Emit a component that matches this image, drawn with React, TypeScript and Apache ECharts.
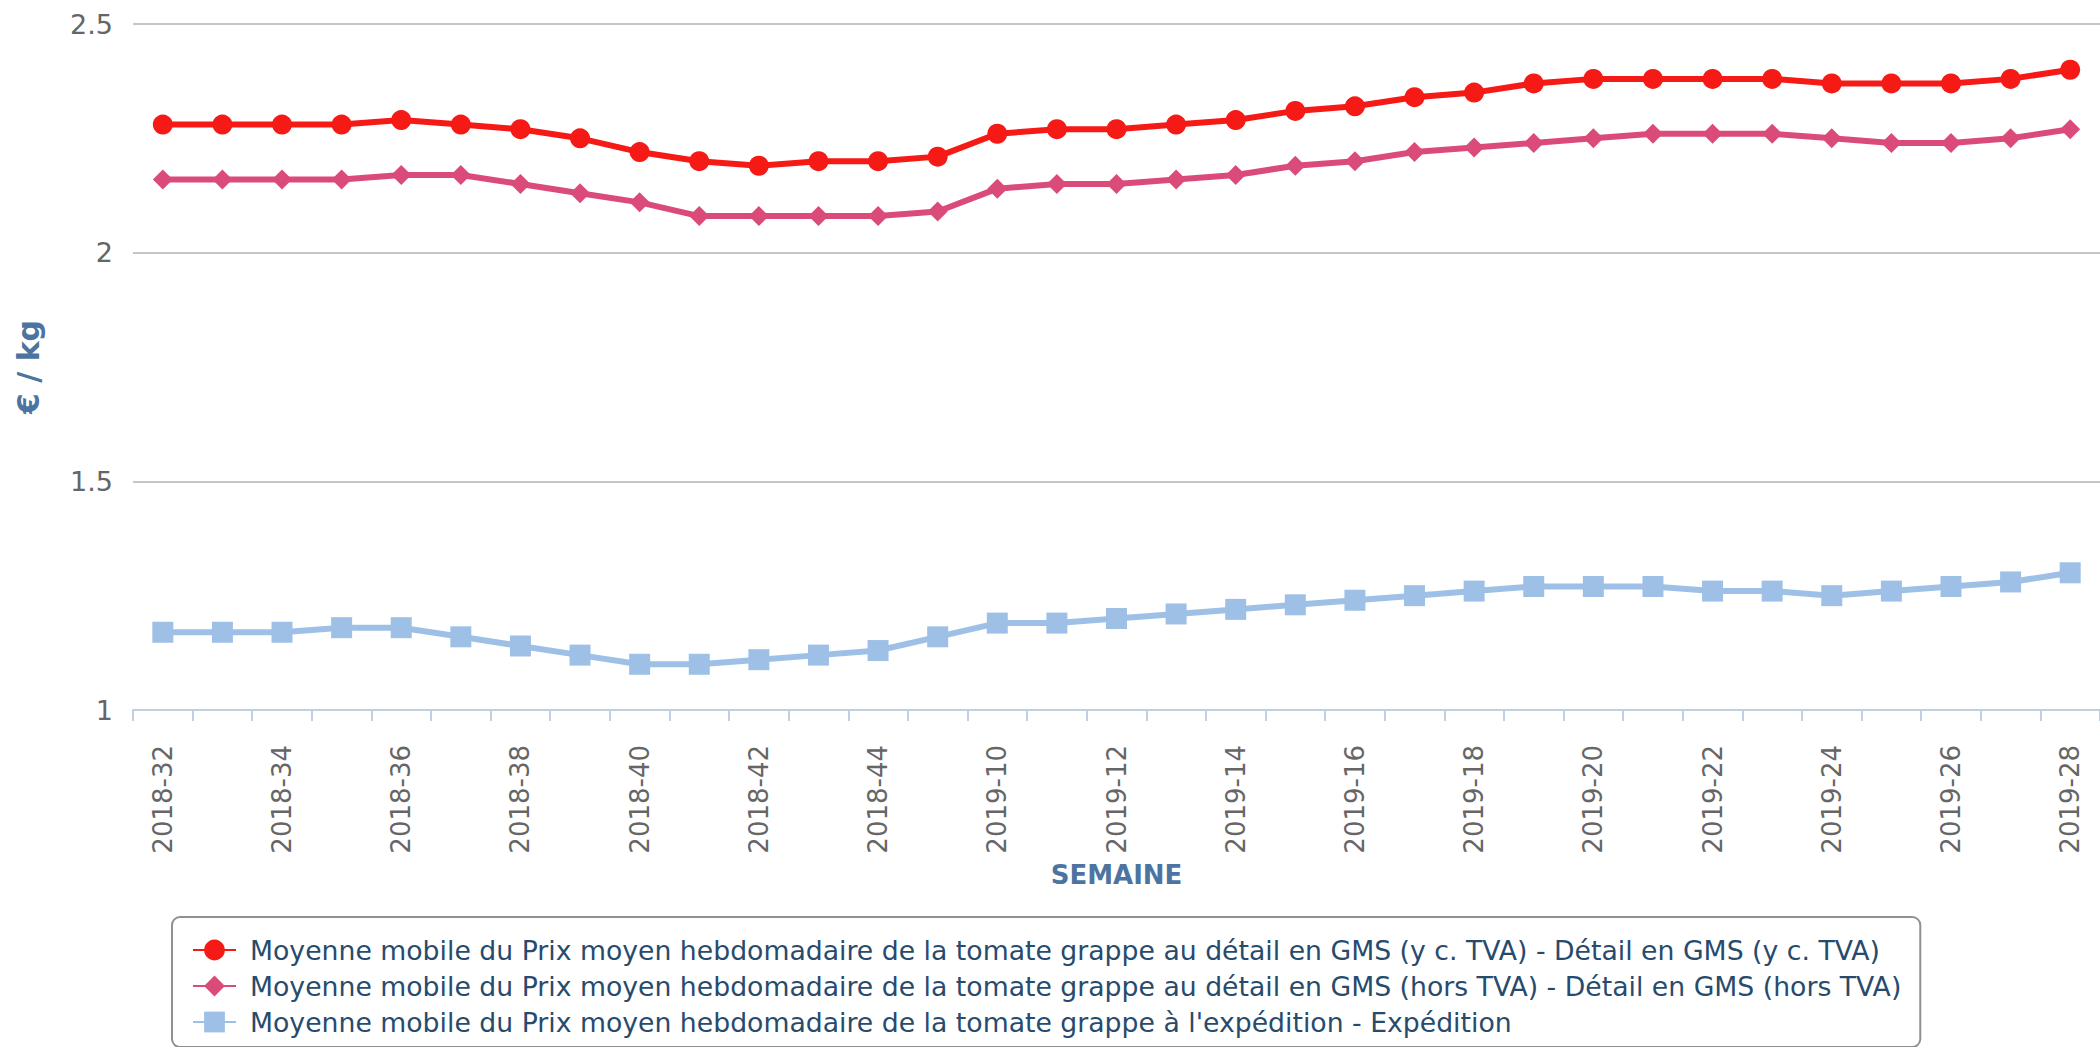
import React, { useEffect, useRef } from "react";
import * as echarts from "echarts";

const categories = [
  "2018-32", "2018-33", "2018-34", "2018-35", "2018-36", "2018-37", "2018-38",
  "2018-39", "2018-40", "2018-41", "2018-42", "2018-43", "2018-44", "2018-45",
  "2019-10", "2019-11", "2019-12", "2019-13", "2019-14", "2019-15", "2019-16",
  "2019-17", "2019-18", "2019-19", "2019-20", "2019-21", "2019-22", "2019-23",
  "2019-24", "2019-25", "2019-26", "2019-27", "2019-28",
];

const detailTTC = [
  2.28, 2.28, 2.28, 2.28, 2.29, 2.28, 2.27, 2.25, 2.22, 2.2, 2.19, 2.2, 2.2, 2.21,
  2.26, 2.27, 2.27, 2.28, 2.29, 2.31, 2.32, 2.34, 2.35, 2.37, 2.38, 2.38, 2.38,
  2.38, 2.37, 2.37, 2.37, 2.38, 2.4,
];

const detailHT = [
  2.16, 2.16, 2.16, 2.16, 2.17, 2.17, 2.15, 2.13, 2.11, 2.08, 2.08, 2.08, 2.08, 2.09,
  2.14, 2.15, 2.15, 2.16, 2.17, 2.19, 2.2, 2.22, 2.23, 2.24, 2.25, 2.26, 2.26,
  2.26, 2.25, 2.24, 2.24, 2.25, 2.27,
];

const expedition = [
  1.17, 1.17, 1.17, 1.18, 1.18, 1.16, 1.14, 1.12, 1.1, 1.1, 1.11, 1.12, 1.13, 1.16,
  1.19, 1.19, 1.2, 1.21, 1.22, 1.23, 1.24, 1.25, 1.26, 1.27, 1.27, 1.27, 1.26,
  1.26, 1.25, 1.26, 1.27, 1.28, 1.3,
];

const seriesNames = [
  "Moyenne mobile du Prix moyen hebdomadaire de la tomate grappe au détail en GMS (y c. TVA) - Détail en GMS (y c. TVA)",
  "Moyenne mobile du Prix moyen hebdomadaire de la tomate grappe au détail en GMS (hors TVA) - Détail en GMS (hors TVA)",
  "Moyenne mobile du Prix moyen hebdomadaire de la tomate grappe à l'expédition - Expédition",
];

const yTicks = { min: 1, max: 2.5, interval: 0.5 };

export default function App() {
  const ref = useRef<HTMLDivElement>(null);

  useEffect(() => {
    document.body.style.margin = "0";
    if (!ref.current) return;
    const chart = echarts.init(ref.current, null, { renderer: "svg" });
    const font = "DejaVu Sans";
    chart.setOption({
      animation: false,
      backgroundColor: "#ffffff",
      textStyle: { fontFamily: font },
      grid: { left: 133, right: 0, top: 24, bottom: 337, containLabel: false },
      xAxis: {
        type: "category",
        data: categories,
        boundaryGap: true,
        name: "SEMAINE",
        nameLocation: "middle",
        nameGap: 148,
        nameTextStyle: { color: "#4d74a0", fontWeight: "bold", fontSize: 26, fontFamily: font },
        axisLine: { show: true, lineStyle: { color: "#c0d0e0", width: 2 } },
        axisTick: { show: true, interval: 0, length: 11, lineStyle: { color: "#c0d0e0", width: 2 } },
        axisLabel: {
          interval: 1,
          rotate: 90,
          margin: 35,
          color: "#666666",
          fontSize: 26,
          fontFamily: font,
        },
        splitLine: { show: false },
      },
      yAxis: {
        type: "value",
        min: yTicks.min,
        max: yTicks.max,
        interval: yTicks.interval,
        name: "€ / kg",
        nameLocation: "middle",
        nameRotate: 90,
        nameGap: 90,
        nameTextStyle: { color: "#4d74a0", fontWeight: "bold", fontSize: 30, fontFamily: font },
        axisLine: { show: false },
        axisTick: { show: false },
        axisLabel: { color: "#666666", fontSize: 27, margin: 20, fontFamily: font },
        splitLine: { show: true, lineStyle: { color: "#c6c6c6", width: 2 } },
      },
      legend: {
        show: true,
        type: "plain",
        orient: "vertical",
        left: 172,
        top: 917,
        height: 200,
        width: 1900,
        padding: [18, 19, 10, 20],
        itemGap: 6,
        itemWidth: 43,
        itemHeight: 26,
        borderColor: "#909090",
        borderWidth: 2,
        borderRadius: 8,
        textStyle: {
          color: "#274b6d",
          fontSize: 26.7,
          fontFamily: font,
          lineHeight: 30,
          padding: [0, 0, 0, 9],
        },
        data: seriesNames,
      },
      series: [
        {
          name: seriesNames[0],
          type: "line",
          data: detailTTC,
          symbol: "circle",
          symbolSize: 20,
          lineStyle: { color: "#f51a15", width: 6 },
          itemStyle: { color: "#f51a15" },
        },
        {
          name: seriesNames[1],
          type: "line",
          data: detailHT,
          symbol: "diamond",
          symbolSize: 20,
          lineStyle: { color: "#db4b7a", width: 6 },
          itemStyle: { color: "#db4b7a" },
        },
        {
          name: seriesNames[2],
          type: "line",
          data: expedition,
          symbol: "rect",
          symbolSize: 21,
          lineStyle: { color: "#9ec0e6", width: 6 },
          itemStyle: { color: "#9ec0e6" },
        },
      ],
    });
    return () => chart.dispose();
  }, []);

  return <div ref={ref} style={{ width: 2100, height: 1047 }} />;
}
